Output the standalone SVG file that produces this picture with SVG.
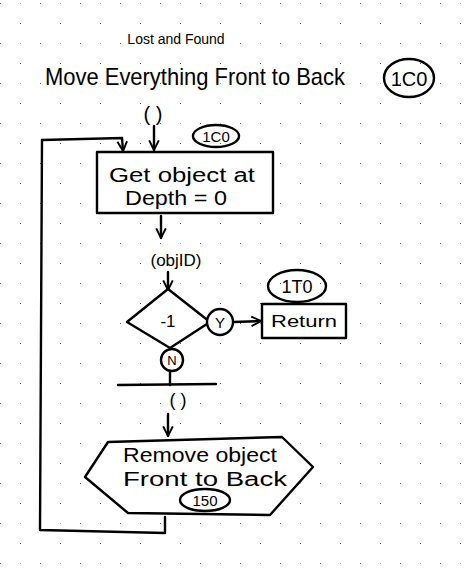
<svg xmlns="http://www.w3.org/2000/svg" width="465" height="568" viewBox="0 0 465 568">
<defs>
<pattern id="grid" x="0" y="3" width="40" height="40" patternUnits="userSpaceOnUse">
<rect x="0" y="0" width="1" height="1" fill="#555"/>
<rect x="20" y="20" width="1" height="1" fill="#555"/>
<rect x="20" y="0" width="1" height="1" fill="#aaa"/>
</pattern>
<marker id="arr" viewBox="0 0 10 10" refX="9" refY="5" markerWidth="5" markerHeight="5" orient="auto-start-reverse" markerUnits="strokeWidth">
<path d="M1,1 L9,5 L1,9" fill="none" stroke="#000" stroke-width="1.6"/>
</marker>
<style>
.s{fill:none;stroke:#000;stroke-width:2.4;stroke-linecap:round;stroke-linejoin:round}
.box{fill:#fff;stroke:#000;stroke-width:2.4;stroke-linejoin:round}
.t{font-family:"Liberation Sans","DejaVu Sans",sans-serif;fill:#000;text-anchor:middle}
.c{stroke:#000;stroke-width:2.4;fill:none;marker-end:url(#arr);stroke-linecap:round}
</style>
</defs>
<rect width="465" height="568" fill="#fff"/>
<rect width="465" height="568" fill="url(#grid)"/>

<g id="title">
<text class="t" x="176" y="44" font-size="14">Lost and Found</text>
<text class="t" x="195" y="85" font-size="24" textLength="300" lengthAdjust="spacingAndGlyphs">Move Everything Front to Back</text>
<ellipse class="s" cx="409" cy="78" rx="25" ry="19"/>
<text class="t" x="409" y="86" font-size="20">1C0</text>
<text class="t" x="153" y="121" font-size="20">( )</text>
</g>

<g id="connectors">
<path class="s" d="M42,140 L40,530 L165,533 L165,517"/>
<path class="c" d="M42,140 L122,138 L123,151"/>
<path class="c" d="M154,126 L154,150"/>
<path class="c" d="M161,216 L161,238"/>
<path class="c" d="M168,272 L168,290"/>
<path class="c" d="M233,322 L261,321"/>
<path class="s" d="M170,371 L170,385"/>
<path class="s" d="M118,385 L216,384"/>
<path class="c" d="M168,414 L168,436"/>
</g>

<g id="get-object">
<rect class="box" x="97" y="152" width="176" height="61"/>
<text class="t" x="182" y="182" font-size="20" textLength="146" lengthAdjust="spacingAndGlyphs">Get object at</text>
<text class="t" x="176" y="205" font-size="20" textLength="102" lengthAdjust="spacingAndGlyphs">Depth = 0</text>
<ellipse class="s" cx="216" cy="136" rx="23" ry="11"/>
<text class="t" x="216" y="142" font-size="15">1C0</text>
</g>

<g id="objid">
<text class="t" x="176" y="266" font-size="17">(objID)</text>
</g>

<g id="decision">
<path class="box" d="M168,289 L210,322 L170,348 L127,322 Z"/>
<text class="t" x="168" y="327" font-size="17">-1</text>
<circle class="box" cx="220" cy="322" r="13"/>
<text class="t" x="220" y="328" font-size="15">Y</text>
<circle class="box" cx="172" cy="360" r="11"/>
<text class="t" x="172" y="365" font-size="13">N</text>
</g>

<g id="return">
<rect class="box" x="262" y="304" width="84" height="34"/>
<text class="t" x="304" y="327" font-size="16" textLength="66" lengthAdjust="spacingAndGlyphs">Return</text>
<ellipse class="s" cx="297" cy="286" rx="29" ry="16"/>
<text class="t" x="297" y="293" font-size="18">1T0</text>
</g>

<g id="paren2">
<text class="t" x="178" y="406" font-size="18">( )</text>
</g>

<g id="remove-object">
<path class="box" d="M108,442 L282,437 L313,467 L270,515 L128,513 L85,477 Z"/>
<text class="t" x="200" y="462" font-size="20" textLength="154" lengthAdjust="spacingAndGlyphs">Remove object</text>
<text class="t" x="205" y="486" font-size="20" textLength="164" lengthAdjust="spacingAndGlyphs">Front to Back</text>
<ellipse class="s" cx="205" cy="500" rx="25" ry="11"/>
<text class="t" x="205" y="506" font-size="15">150</text>
</g>
</svg>
